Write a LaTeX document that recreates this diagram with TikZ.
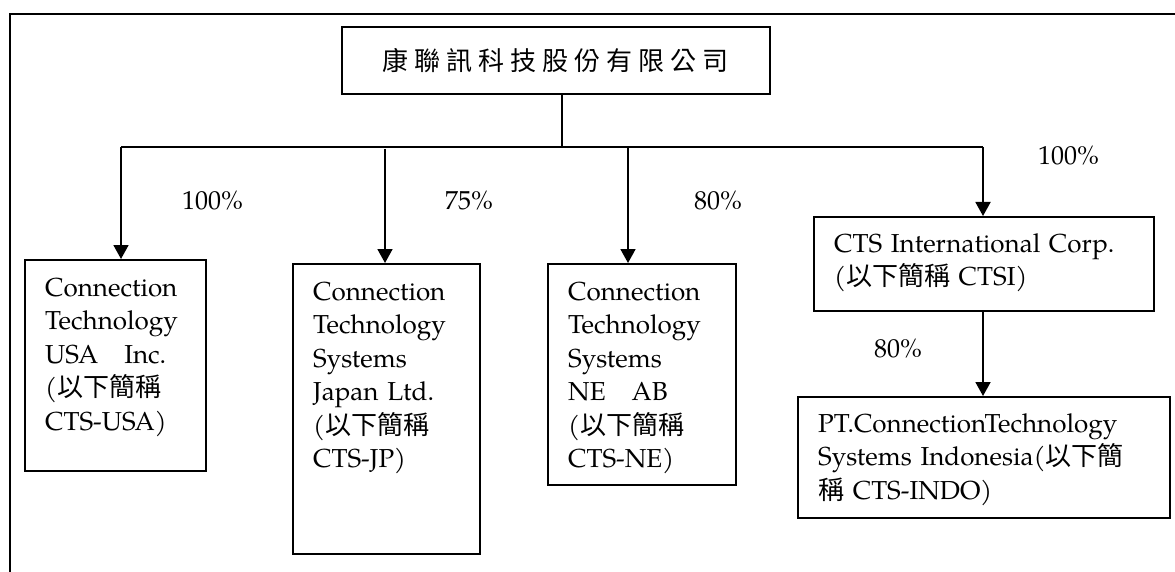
\documentclass[tikz,border=0pt]{standalone}
\usepackage{fontspec}
\setmainfont{TeX Gyre Pagella}
\newfontfamily\cjk{Noto Sans CJK TC}
\usetikzlibrary{arrows.meta,calc}
\newcommand\zh[1]{{\cjk #1}}
\newcommand\tsp{\hspace{6pt}}
\begin{document}
\begin{tikzpicture}[x=1pt,y=-1pt,
  frame/.style={line width=2.6pt},
  boxshape/.style={draw,line width=1.8pt,rectangle,inner sep=0pt,anchor=north west},
  link/.style={line width=1.6pt},
  arr/.style={line width=1.8pt,-{Triangle[width=15pt,length=14pt]}},
  txt/.style={inner sep=0pt,anchor=base west,align=left,text width=400pt,font=\fontsize{26}{33.5}\selectfont},
  pct/.style={inner sep=0pt,anchor=base west,font=\fontsize{26}{33.5}\selectfont}]
\useasboundingbox (0,0) rectangle (1175,572);
\draw[frame] (10,573) -- (10,14) -- (1176,14);
% parent
\node[boxshape,line width=1.6pt,minimum width=428pt,minimum height=67pt] (top) at (341,26) {};
\node[inner sep=0pt,font=\fontsize{26}{30}\selectfont\cjk] (toptxt) at (top.center) {康\tsp 聯\tsp 訊\tsp 科\tsp 技\tsp 股\tsp 份\tsp 有\tsp 限\tsp 公\tsp 司};
% subsidiaries
\node[boxshape,minimum width=181pt,minimum height=211pt] (usa) at (24,259) {};
\node[txt] (usatxt) at ($(usa.north west)+(21,37)$) {Connection\\Technology\\USA\quad Inc.\\(\zh{以下簡稱}\\CTS-USA)};
\node[boxshape,minimum width=187pt,minimum height=290pt] (jp) at (292,263) {};
\node[txt] (jptxt) at ($(jp.north west)+(21,37)$) {Connection\\Technology\\Systems\\Japan Ltd.\\(\zh{以下簡稱}\\CTS-JP)};
\node[boxshape,minimum width=188pt,minimum height=221pt] (ne) at (547,263) {};
\node[txt] (netxt) at ($(ne.north west)+(21,37)$) {Connection\\Technology\\Systems\\NE\quad AB\\(\zh{以下簡稱}\\CTS-NE)};
\node[boxshape,minimum width=340pt,minimum height=94pt] (ctsi) at (813,216) {};
\node[txt] (ctsitxt) at ($(ctsi.north west)+(21,36)$) {CTS International Corp.\\(\zh{以下簡稱} CTSI)};
\node[boxshape,minimum width=372pt,minimum height=121pt] (indo) at (797,396) {};
\node[txt] (indotxt) at ($(indo.north west)+(21,36)$) {PT.ConnectionTechnology\\Systems Indonesia(\zh{以下簡}\\\zh{稱} CTS-INDO)};
% connectors
\coordinate (j) at (562,147);
\coordinate (h1) at (121,147);
\coordinate (h2) at (385,149);
\coordinate (h3) at (628,147);
\coordinate (h4) at (983,147);
\draw[link] (top.south -| j) -- (j);
\draw[link] (h1) -- (h4);
\draw[arr] (h1) -- (h1 |- usa.north);
\draw[arr] (h2) -- (h2 |- jp.north);
\draw[arr] (h3) -- (h3 |- ne.north);
\draw[arr] (h4) -- (h4 |- ctsi.north);
\draw[arr] (ctsi.south -| h4) -- (h4 |- indo.north);
% percentages
\node[pct] (p1) at (182,210) {100\%};
\node[pct] (p2) at (445,210) {75\%};
\node[pct] (p3) at (694,210) {80\%};
\node[pct] (p4) at (1038,165) {100\%};
\node[pct] (p5) at (874,357) {80\%};
\end{tikzpicture}
\end{document}
